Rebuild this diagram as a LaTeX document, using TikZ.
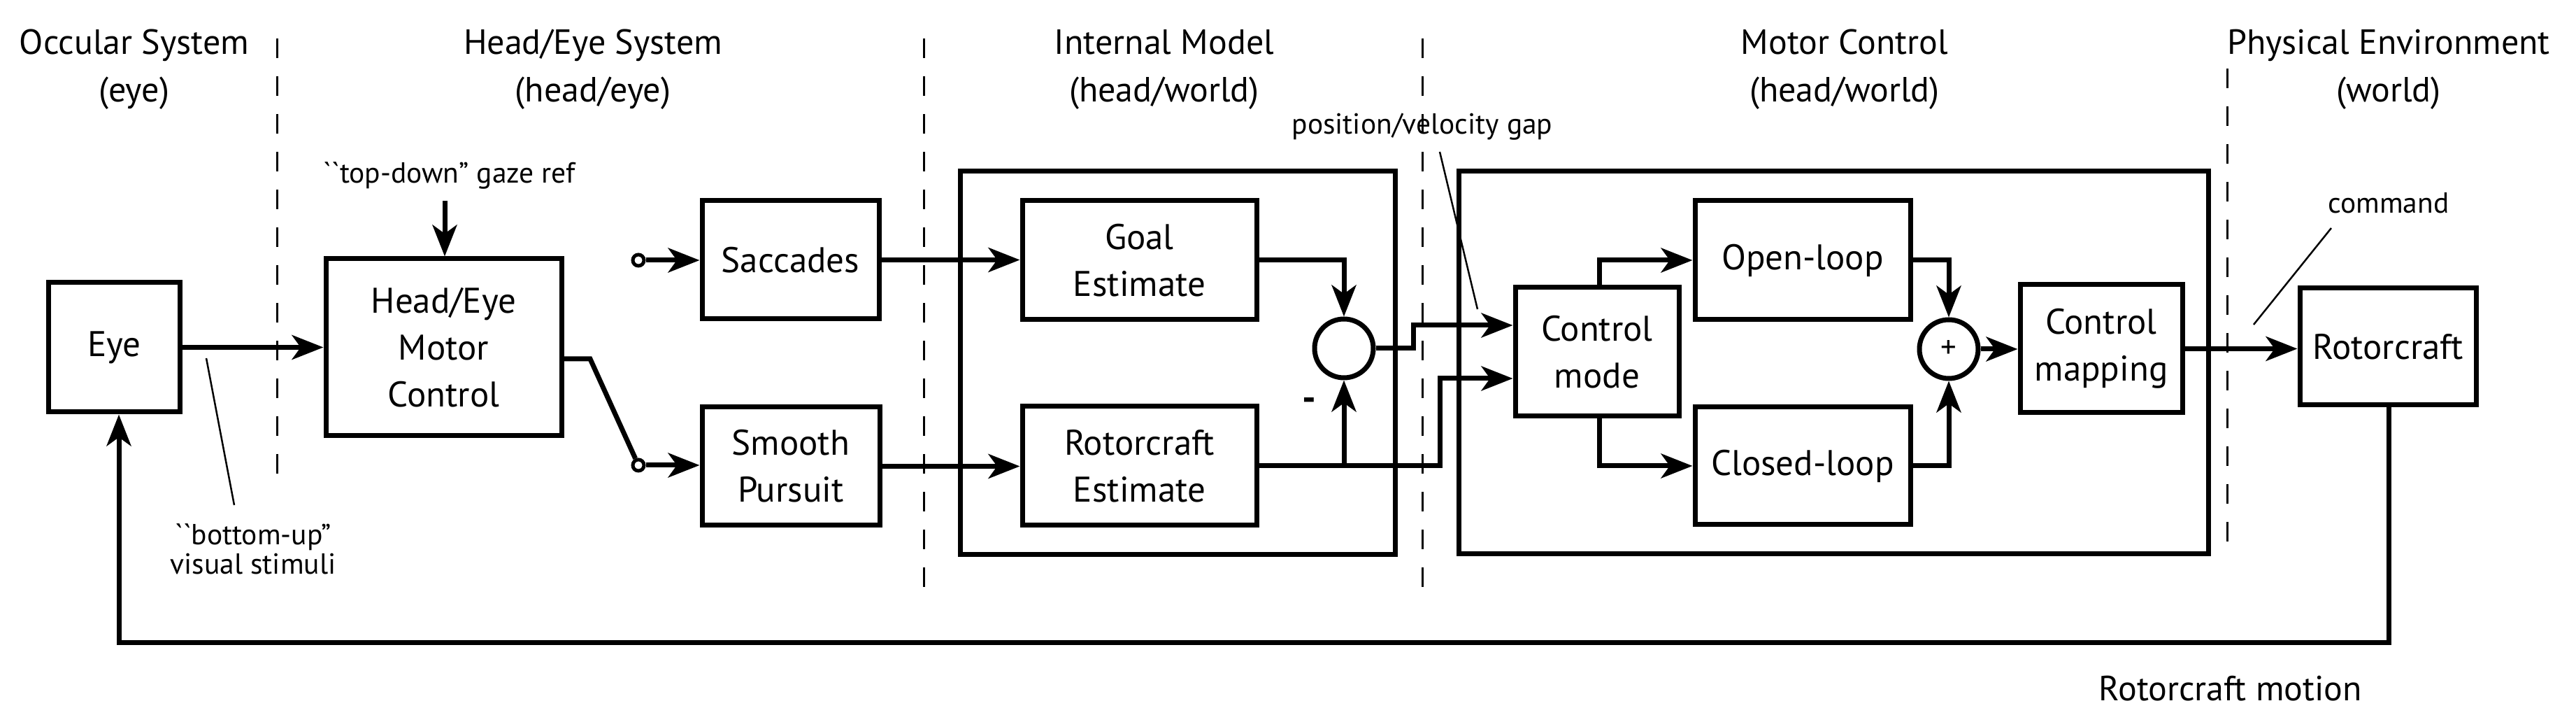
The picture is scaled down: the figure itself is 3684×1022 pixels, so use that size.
\documentclass[tikz,border=0pt]{standalone}
\usepackage{fontspec}
\setmainfont{PT Sans}
\usetikzlibrary{arrows.meta,calc}
\begin{document}
\begin{tikzpicture}[x=0.2pt,y=-0.2pt,
  box/.style={draw,line width=1.4pt,align=center,inner sep=0pt,font=\fontsize{10.2}{13.4}\selectfont},
  sumc/.style={draw,circle,line width=1.4pt,minimum size=16.8pt,inner sep=0pt,font=\fontsize{9}{10}\selectfont},
  sw/.style={draw,circle,line width=1pt,minimum size=3.2pt,inner sep=0pt},
  conn/.style={line width=1.4pt},
  arr/.style={line width=1.4pt,-{Stealth[length=9pt,width=7pt,inset=2.5pt]}},
  hdr/.style={font=\fontsize{10}{12}\selectfont,anchor=base},
  lbl/.style={font=\fontsize{8.3}{10.5}\selectfont,align=center},
  ptr/.style={line width=0.5pt},
  dsh/.style={line width=0.6pt,dash pattern=on 5.6pt off 5.2pt}]
\useasboundingbox (0,0) rectangle (3684,1022);
% headers
\node[hdr] (h1a) at (192,78) {Occular System};
\node[hdr] (h1b) at (192,146) {(eye)};
\node[hdr] (h2a) at (848,78) {Head/Eye System};
\node[hdr] (h2b) at (848,146) {(head/eye)};
\node[hdr] (h3a) at (1665,78) {Internal Model};
\node[hdr] (h3b) at (1665,146) {(head/world)};
\node[hdr] (h4a) at (2638,78) {Motor Control};
\node[hdr] (h4b) at (2638,146) {(head/world)};
\node[hdr] (h5a) at (3416,78) {Physical Environment};
\node[hdr] (h5b) at (3416,146) {(world)};
% dashed separators
\coordinate (d1t) at (396,55); \coordinate (d1b) at (396,697);
\coordinate (d2t) at (1321,55); \coordinate (d2b) at (1321,841);
\coordinate (d3t) at (2034,55); \coordinate (d3b) at (2034,841);
\coordinate (d4t) at (3185,98); \coordinate (d4b) at (3185,799);
\draw[dsh] (d1t) -- (d1b); \draw[dsh] (d2t) -- (d2b);
\draw[dsh] (d3t) -- (d3b); \draw[dsh] (d4t) -- (d4b);
% frames
\node[box,minimum width=124.4pt,minimum height=109.6pt] (im) at (1684,519) {};
\node[box,minimum width=214.4pt,minimum height=109.4pt] (mcf) at (2622,518.5) {};
% blocks
\node[box,minimum width=37.4pt,minimum height=37pt] (eye) at (163.5,496.5) {Eye};
\node[box,minimum width=67.4pt,minimum height=50.6pt] (mc) at (634.5,496.5) {Head/Eye\\Motor\\Control};
\node[box,minimum width=50.6pt,minimum height=33.8pt] (sac) at (1130.5,371.5) {Saccades};
\node[box,minimum width=50.8pt,minimum height=33.8pt] (sp) at (1131,666.5) {Smooth\\Pursuit};
\node[box,minimum width=67pt,minimum height=34pt] (goal) at (1629.5,372) {Goal\\Estimate};
\node[box,minimum width=67pt,minimum height=34pt] (rest) at (1629.5,666) {Rotorcraft\\Estimate};
\node[sumc] (s1) at (1922,498) {};
\node[box,minimum width=46.8pt,minimum height=36.8pt] (cmode) at (2284,503) {Control\\mode};
\node[box,minimum width=61.6pt,minimum height=34pt] (open) at (2578,372) {Open-loop};
\node[box,minimum width=61.6pt,minimum height=33.6pt] (closed) at (2578,666) {Closed-loop};
\node[sumc] (s2) at (2787,499) {+};
\node[box,minimum width=46.4pt,minimum height=36.6pt] (cmap) at (3005,498.5) {Control\\mapping};
\node[box,minimum width=50.4pt,minimum height=33.4pt] (rotor) at (3415,495.5) {Rotorcraft};
% switch contacts
\node[sw] (c1) at (913,372) {};
\node[sw] (c2) at (913,665) {};
% labels
\node[lbl] (ltd) at (643,251) {\textasciigrave\textasciigrave top-down” gaze ref};
\node[lbl] (lbu) at (362,785) {\textasciigrave\textasciigrave bottom-up”\\[-2pt]visual stimuli};
\node[lbl] (lpv) at (2034,181) {position/velocity gap};
\node[lbl] (lcmd) at (3416,290) {command};
\node[font=\fontsize{10}{12}\selectfont] (lrm) at (3190,984) {Rotorcraft motion};
\node[font=\fontsize{11}{12}\selectfont\bfseries] (minus) at (1872,578) {-};
% pointers
\coordinate (p1a) at (295,512); \coordinate (p1b) at (335,722);
\coordinate (p2a) at (2059,217); \coordinate (p2b) at (2113,442);
\coordinate (p3a) at (3334,326); \coordinate (p3b) at (3223,464);
\draw[ptr] (p1a) -- (p1b); \draw[ptr] (p2a) -- (p2b); \draw[ptr] (p3a) -- (p3b);
% connectors
\coordinate (td) at (636,287);
\draw[arr] (td) -- (mc.north -| td);
\draw[arr] (eye.east) -- (mc.west |- eye.east);
\coordinate (swp) at (844,513);
\draw[conn] (mc.east |- swp) -- (swp) -- (c2);
\draw[arr] (c1) -- (sac.west |- c1);
\draw[arr] (c2) -- (sp.west |- c2);
\draw[arr] (sac.east) -- (goal.west |- sac.east);
\draw[arr] (sp.east) -- (rest.west |- sp.east);
\draw[arr] (goal.east) -| (s1.north);
\draw[arr] (rest.east) -| (s1.south);
\coordinate (k1) at (2021,498); \coordinate (k1u) at (2021,465);
\draw[arr] (s1.east) -- (k1) -- (k1u) -- (cmode.west |- k1u);
\coordinate (k2) at (2059,666); \coordinate (k2u) at (2059,541);
\draw[arr] (s1.south |- rest.east) -- (k2) -- (k2u) -- (cmode.west |- k2u);
\coordinate (cmx) at (2287,0);
\draw[arr] (cmode.north -| cmx) |- (open.west);
\draw[arr] (cmode.south -| cmx) |- (closed.west);
\draw[arr] (open.east) -| (s2.north);
\draw[arr] (closed.east) -| (s2.south);
\draw[arr] (s2.east) -- (cmap.west |- s2.east);
\draw[arr] (cmap.east) -- (rotor.west |- cmap.east);
\coordinate (fbr) at (3416,919); \coordinate (fbl) at (170,919);
\draw[arr] (rotor.south -| fbr) -- (fbr) -- (fbl) -- (eye.south -| fbl);
\end{tikzpicture}
\end{document}
